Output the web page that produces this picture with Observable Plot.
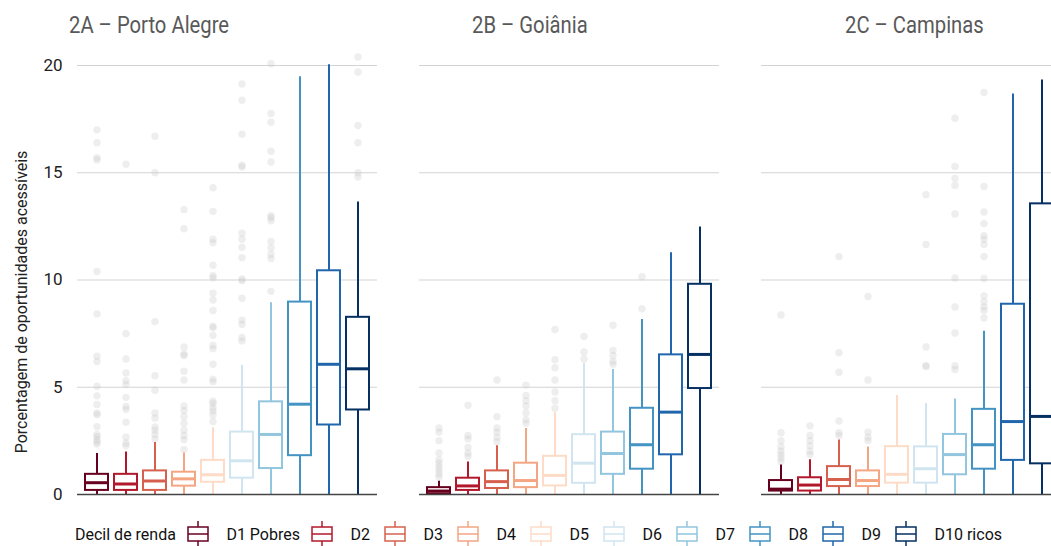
<!DOCTYPE html>
<html>
<head>
<meta charset="utf-8">
<script src="https://cdn.jsdelivr.net/npm/d3@7"></script>
<script src="https://cdn.jsdelivr.net/npm/@observablehq/plot@0.6"></script>
<style>
  html, body { margin: 0; padding: 0; background: #fff; overflow: hidden; width: 1051px; height: 546px; }
  body { position: relative; font-family: Roboto, "Noto Sans", sans-serif; }
  #chart { position: absolute; left: 0; top: 0; width: 1051px; height: 510px; overflow: hidden; }
  .title { position: absolute; top: 12px; font-size: 23px; color: #595959; white-space: nowrap; transform: scaleX(0.88); transform-origin: left top; }
  #legend { position: absolute; left: 75px; top: 521px; display: flex; align-items: center; font-size: 16px; color: #111; white-space: nowrap; }
  #legend .lab { margin-right: 14px; }
  #legend .lab.first { margin-right: 11px; }
  #legend svg { margin-right: 17.5px; }
</style>
</head>
<body>
<div id="chart"></div>
<div class="title" style="left:69px">2A – Porto Alegre</div>
<div class="title" style="left:472px">2B – Goiânia</div>
<div class="title" style="left:845px">2C – Campinas</div>
<div id="legend"></div>
<script>
const deciles = ["D1","D2","D3","D4","D5","D6","D7","D8","D9","D10"];
const decileLabels = ["D1 Pobres","D2","D3","D4","D5","D6","D7","D8","D9","D10 ricos"];
const cities = ["2A – Porto Alegre","2B – Goiânia","2C – Campinas"];
const colors = ["#67001f","#b2182b","#d6604d","#f4a582","#fddbc7","#d1e5f0","#92c5de","#4393c3","#2166ac","#053061"];
const yTicks = [0,5,10,15,20];
const yLabel = "Porcentagem de oportunidades acessíveis";
const legendTitle = "Decil de renda";

// Box summaries per city (rows) and decile (columns)
const q1 = [
  [0.19,0.19,0.19,0.39,0.57,0.76,1.21,1.81,3.24,3.94],
  [0.03,0.19,0.28,0.32,0.40,0.52,0.94,1.18,1.85,4.94],
  [0.16,0.16,0.37,0.37,0.53,0.53,0.92,1.18,1.59,1.43]
];
const median = [
  [0.55,0.49,0.63,0.73,0.92,1.57,2.80,4.21,6.07,5.86],
  [0.16,0.40,0.60,0.65,0.89,1.46,1.91,2.32,3.84,6.53],
  [0.25,0.44,0.70,0.65,0.94,1.20,1.86,2.32,3.40,3.64]
];
const q3 = [
  [0.94,0.94,1.10,1.04,1.59,2.91,4.32,8.97,10.43,8.26],
  [0.32,0.76,1.10,1.46,1.78,2.79,2.91,4.02,6.51,9.80],
  [0.65,0.78,1.30,1.10,2.23,2.22,2.80,3.97,8.87,13.55]
];
const whiskerLow = [
  [0,0,0,0,0,0,0,0,0,0],
  [0,0,0,0,0,0,0,0,0,0],
  [0,0,0,0,0,0,0,0,0,0]
];
const whiskerHigh = [
  [1.91,1.98,2.43,1.94,3.11,6.02,8.94,19.48,20.03,13.64],
  [0.62,1.51,2.27,3.08,3.81,6.12,5.83,8.16,11.27,12.47],
  [1.38,1.62,2.54,2.22,4.62,4.24,4.45,7.61,18.67,19.32]
];
const outliersA = [
  [2.35,2.45,2.55,2.7,2.8,3.16,3.72,3.8,4.2,4.6,5.05,6.2,6.45,8.42,10.4,15.6,15.7,16.4,17.0],
  [2.27,2.4,2.67,3.37,3.97,4.1,4.53,5.13,5.31,5.67,6.32,7.5,15.4],
  [2.59,2.8,3.0,3.15,3.56,3.8,4.86,5.54,8.06,15.0,16.7],
  [2.1,2.56,2.75,3.0,3.32,3.64,3.92,4.13,5.34,5.75,6.48,6.55,6.88,12.39,13.28],
  [3.4,3.72,3.9,4.05,4.24,4.35,5.26,5.38,6.07,6.8,6.95,7.42,7.77,7.85,8.58,9.07,9.39,10.1,10.2,10.69,11.74,11.9,13.2,14.3],
  [7.16,7.32,7.94,8.13,9.15,9.96,10.05,11.04,11.53,11.9,12.18,15.27,15.35,16.8,18.38,19.14],
  [9.47,11.0,11.2,11.5,11.8,12.76,12.9,13.0,15.5,16.0,17.36,17.76,20.08],
  [],
  [],
  [14.8,15.0,16.4,17.2,19.7,20.4]
];
const outliersB = [
  [0.81,0.97,1.13,1.3,1.46,1.62,1.94,2.51,2.91,3.1],
  [1.78,1.94,2.19,2.59,2.75,4.16],
  [2.46,2.67,2.91,3.1,3.63,5.34],
  [3.32,3.48,3.8,4.13,4.37,4.62,5.1],
  [4.02,4.37,4.78,5.34,5.91,6.28,7.69],
  [6.32,6.64,7.37],
  [6.07,6.2,6.48,6.72,7.89],
  [8.66,10.15],
  [],
  []
];
const outliersC = [
  [1.54,1.7,1.86,2.02,2.23,2.51,2.88,8.37],
  [1.86,2.02,2.27,2.51,2.75,3.2],
  [2.75,2.88,3.43,5.7,6.61,11.09],
  [2.51,2.67,2.91,5.34,9.23],
  [],
  [5.96,6.02,6.88,11.66,13.98],
  [5.83,6.0,7.53,8.74,10.09,13.08,14.41,14.74,15.29,17.54],
  [8.23,8.58,8.74,8.99,9.26,10.07,11.09,11.66,11.9,12.06,12.63,13.17,14.36,18.74],
  [],
  []
];
const outliers = [outliersA, outliersB, outliersC];

const boxes = cities.flatMap((city, ci) => deciles.map((decile, di) => ({
  city, decile,
  q1: q1[ci][di], med: median[ci][di], q3: q3[ci][di],
  lo: whiskerLow[ci][di], hi: whiskerHigh[ci][di]
})));
const points = cities.flatMap((city, ci) => deciles.flatMap((decile, di) =>
  outliers[ci][di].map(v => ({city, decile, v}))));

const chart = Plot.plot({
  width: 1061,
  height: 510,
  marginLeft: 77,
  marginRight: 0,
  marginTop: 65,
  marginBottom: 16,
  style: {fontFamily: "Roboto, 'Noto Sans', sans-serif", color: "#222", background: "transparent", maxWidth: "none", overflow: "visible"},
  fx: {domain: cities, paddingInner: 0.123, paddingOuter: 0, axis: null},
  x: {domain: deciles, padding: 0.22, axis: null},
  y: {domain: [0, 20]},
  color: {domain: deciles, range: colors},
  marks: [
    Plot.gridY(yTicks.filter(t => t > 0), {stroke: "#d3d3d3", strokeOpacity: 1, strokeWidth: 1}),
    Plot.axisY(yTicks, {tickSize: 0, tickPadding: 15, fontSize: 17, label: null, facetAnchor: "left", fill: "#222"}),
    Plot.text([yLabel], {text: d => d, fx: () => cities[0], frameAnchor: "left", rotate: -90, dx: -56, dy: 22, fontSize: 16, fill: "#222", textAnchor: "middle"}),
    Plot.dot(points, {x: "decile", y: "v", fx: "city", r: 3.7, fill: "#c8c8c8", fillOpacity: 0.3}),
    Plot.ruleX(boxes, {x: "decile", y1: "lo", y2: "hi", fx: "city", stroke: "decile", strokeWidth: 2}),
    Plot.barY(boxes, {x: "decile", y1: "q1", y2: "q3", fx: "city", fill: "white", stroke: "decile", strokeWidth: 2}),
    Plot.tickY(boxes, {x: "decile", y: "med", fx: "city", stroke: "decile", strokeWidth: 3}),
    Plot.ruleY([0], {stroke: "#444", strokeWidth: 1.5})
  ]
});
document.getElementById("chart").appendChild(chart);

// Legend
const legend = document.getElementById("legend");
const t = document.createElement("span");
t.className = "lab first";
t.textContent = legendTitle;
legend.appendChild(t);
deciles.forEach((d, i) => {
  const c = colors[i];
  const ns = "http://www.w3.org/2000/svg";
  const s = document.createElementNS(ns, "svg");
  s.setAttribute("width", 22); s.setAttribute("height", 26);
  s.innerHTML = `<line x1="11" x2="11" y1="0" y2="26" stroke="${c}" stroke-width="1.5"/>
    <rect x="1" y="6" width="20" height="14" fill="white" stroke="${c}" stroke-width="1.5"/>
    <line x1="1" x2="21" y1="13" y2="13" stroke="${c}" stroke-width="1.5"/>`;
  legend.appendChild(s);
  const l = document.createElement("span");
  l.className = i === 0 ? "lab first" : "lab";
  l.textContent = decileLabels[i];
  legend.appendChild(l);
});
</script>
</body>
</html>
